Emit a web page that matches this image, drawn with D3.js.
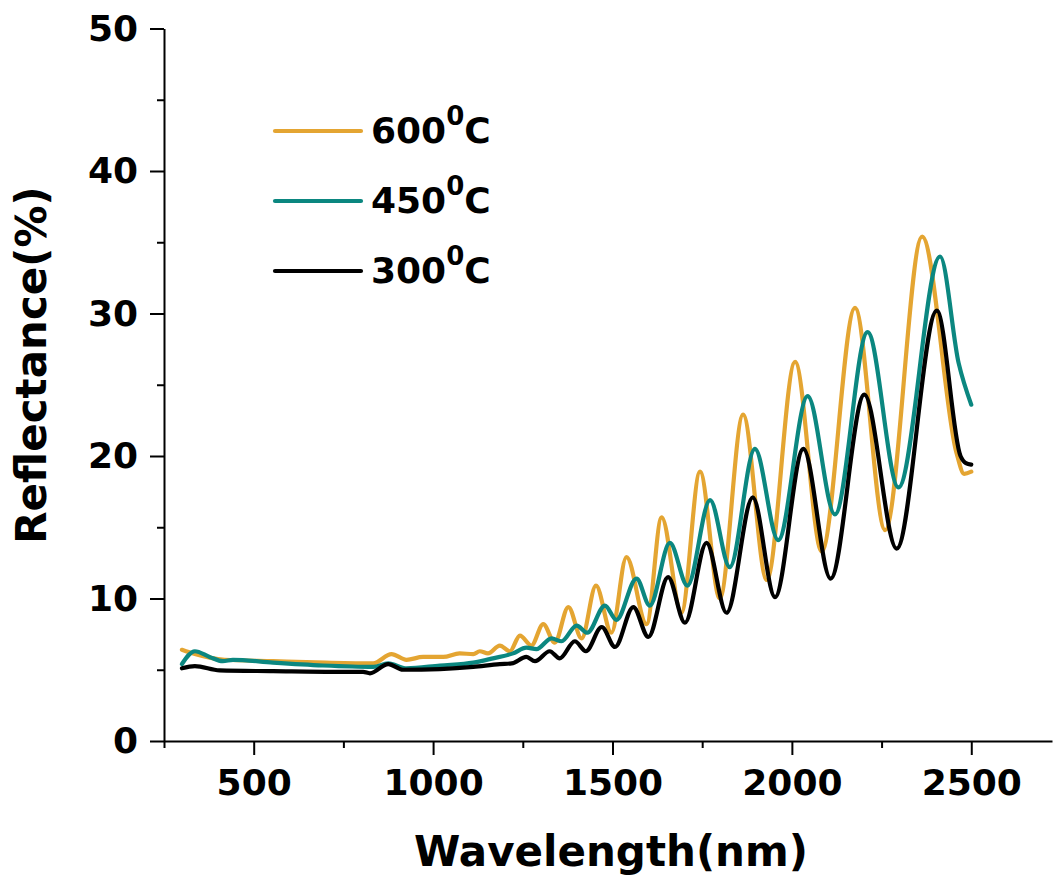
<!DOCTYPE html>
<head>
<meta charset="utf-8">
<title>Reflectance vs Wavelength</title>
<script type="text/javascript" src="https://d3js.org/d3.v7.min.js"></script>
<style>
  body { margin: 0; background: #fff; }
  svg text { font-family: "DejaVu Sans", Verdana, sans-serif; font-weight: bold; fill: #000; }
  .axis path, .axis line { stroke: #000; stroke-width: 2; }
  .serie { fill: none; stroke-width: 4.2; stroke-linejoin: round; stroke-linecap: round; }
</style>
</head>
<body>
<div id="vis-canvas"></div>
<script>
//---------------------------DATA--------------------------------//
// wavelength (nm) / reflectance (%)
var wl600 = [300, 336, 419, 554, 700, 833, 884, 926, 972, 1028, 1074, 1112, 1130, 1153, 1186, 1214, 1242, 1274, 1307, 1339, 1377, 1414, 1454, 1497, 1539, 1595, 1637, 1692, 1744, 1799, 1864, 1930, 2009, 2083, 2176, 2260, 2363, 2459, 2480, 2500];
var r600  = [6.4, 6.1, 5.7, 5.6, 5.5, 5.45, 6.1, 5.7, 5.9, 5.9, 6.15, 6.1, 6.3, 6.15, 6.7, 6.3, 7.4, 6.7, 8.2, 6.9, 9.4, 7.2, 10.9, 7.6, 12.9, 8.2, 15.7, 9.0, 18.9, 10.0, 22.9, 11.3, 26.6, 13.3, 30.4, 14.8, 35.4, 20.2, 18.75, 18.9];

var wl450 = [300, 336, 377, 414, 442, 554, 693, 833, 875, 926, 1019, 1112, 1167, 1223, 1260, 1288, 1330, 1358, 1400, 1430, 1479, 1511, 1567, 1604, 1660, 1709, 1772, 1827, 1897, 1962, 2044, 2120, 2211, 2297, 2413, 2465, 2500];
var r450  = [5.4, 6.3, 5.9, 5.6, 5.7, 5.5, 5.3, 5.2, 5.45, 5.1, 5.3, 5.5, 5.8, 6.15, 6.55, 6.45, 7.2, 7.0, 8.1, 7.6, 9.5, 8.5, 11.4, 9.5, 13.9, 10.9, 16.9, 12.2, 20.5, 14.1, 24.2, 15.9, 28.7, 17.8, 34.0, 26.5, 23.6];

var wl300 = [300, 336, 405, 554, 740, 805, 824, 875, 916, 1019, 1112, 1186, 1219, 1260, 1284, 1325, 1353, 1395, 1426, 1470, 1507, 1558, 1600, 1655, 1702, 1762, 1818, 1891, 1953, 2032, 2108, 2202, 2292, 2404, 2470, 2485, 2500];
var r300  = [5.1, 5.25, 4.95, 4.9, 4.85, 4.85, 4.75, 5.4, 5.0, 5.05, 5.2, 5.4, 5.45, 5.9, 5.6, 6.3, 5.8, 7.0, 6.3, 8.0, 6.6, 9.4, 7.3, 11.5, 8.3, 13.9, 9.0, 17.1, 10.1, 20.5, 11.4, 24.3, 13.5, 30.2, 20.0, 19.5, 19.4];

var seriesNames  = ["600", "450", "300"];
var seriesColors = ["#E4A532", "#0B8780", "#000000"];

var xMajor = [500, 1000, 1500, 2000, 2500];
var xMinor = [250, 750, 1250, 1750, 2250];
var yMajor = [0, 10, 20, 30, 40, 50];
var yMinor = [5, 15, 25, 35, 45];

//---------------------------SVG---------------------------------//
var W = 1054, H = 876;
var svg = d3.select("#vis-canvas").append("svg")
    .attr("width", W)
    .attr("height", H);

var xScale = d3.scaleLinear().domain([250, 2725]).range([164, 1052]);
var yScale = d3.scaleLinear().domain([0, 50]).range([741, 28.5]);

//---------------------------AXES--------------------------------//
var gx = svg.append("g")
    .attr("class", "axis")
    .attr("transform", "translate(0," + yScale(0) + ")")
    .call(d3.axisBottom(xScale).tickValues(xMajor).tickSize(14).tickSizeOuter(0).tickPadding(14).tickFormat(d3.format("d")));
gx.selectAll("text").attr("font-size", 36).attr("font-weight", "bold");

svg.append("g")
    .attr("class", "axis")
    .attr("transform", "translate(0," + yScale(0) + ")")
    .call(d3.axisBottom(xScale).tickValues(xMinor).tickSize(7).tickSizeOuter(0).tickFormat(""))
    .select(".domain").remove();

var gy = svg.append("g")
    .attr("class", "axis")
    .attr("transform", "translate(" + xScale(250) + ",0)")
    .call(d3.axisLeft(yScale).tickValues(yMajor).tickSize(14).tickSizeOuter(0).tickPadding(12));
gy.selectAll("text").attr("font-size", 36).attr("font-weight", "bold");

svg.append("g")
    .attr("class", "axis")
    .attr("transform", "translate(" + xScale(250) + ",0)")
    .call(d3.axisLeft(yScale).tickValues(yMinor).tickSize(7).tickSizeOuter(0).tickFormat(""))
    .select(".domain").remove();

// axis titles
svg.append("text")
    .attr("x", 611)
    .attr("y", 866)
    .attr("text-anchor", "middle")
    .attr("font-size", 42)
    .text("Wavelength(nm)");

svg.append("text")
    .attr("transform", "translate(46,365) rotate(-90)")
    .attr("text-anchor", "middle")
    .attr("font-size", 42)
    .text("Reflectance(%)");

//---------------------------LINES-------------------------------//
var line = d3.line()
    .x(function(d) { return xScale(d[0]); })
    .y(function(d) { return yScale(d[1]); })
    .curve(d3.curveMonotoneX);

var slices = [
    { id: seriesNames[0], color: seriesColors[0], values: d3.zip(wl600, r600) },
    { id: seriesNames[1], color: seriesColors[1], values: d3.zip(wl450, r450) },
    { id: seriesNames[2], color: seriesColors[2], values: d3.zip(wl300, r300) }
];

svg.selectAll(".serie")
    .data(slices)
    .enter()
    .append("path")
    .attr("class", "serie")
    .attr("stroke", function(d) { return d.color; })
    .attr("d", function(d) { return line(d.values); });

//---------------------------LEGEND------------------------------//
var legendY = [131, 201, 271];
var legend = svg.selectAll(".legend")
    .data(slices)
    .enter()
    .append("g")
    .attr("class", "legend")
    .attr("transform", function(d, i) { return "translate(0," + legendY[i] + ")"; });

legend.append("line")
    .attr("x1", 275).attr("x2", 361)
    .attr("stroke", function(d) { return d.color; })
    .attr("stroke-width", 4.2)
    .attr("stroke-linecap", "round");

var lt = legend.append("text")
    .attr("x", 371)
    .attr("y", 12)
    .attr("font-size", 36);
lt.append("tspan").text(function(d) { return d.id; });
lt.append("tspan").attr("font-size", 26).attr("dy", -18).text("0");
lt.append("tspan").attr("dy", 18).text("C");
</script>
</div>
</body>
